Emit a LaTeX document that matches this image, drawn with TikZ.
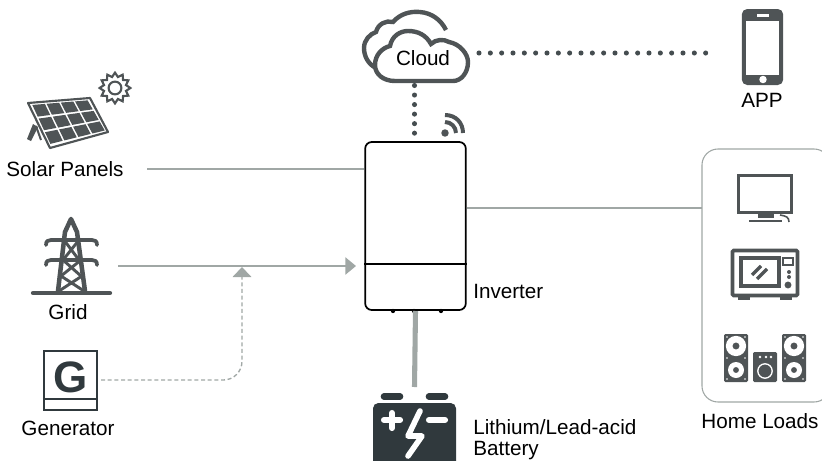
\documentclass[tikz,border=0pt]{standalone}
\usepackage{fontspec}
\usepackage{tikz}
\usetikzlibrary{arrows.meta,calc,shapes.geometric}
\setmainfont{Liberation Sans}
\definecolor{icong}{HTML}{4F5456}
\definecolor{inkdk}{HTML}{30393D}
\definecolor{lineg}{HTML}{A0A7A5}
\tikzset{
  lbl/.style={font=\fontsize{15.5}{18}\selectfont,text=black,inner sep=0pt},
  lblw/.style={lbl,anchor=west},
  thin line/.style={draw=lineg,line width=1pt},
  dotline/.style={draw=inkdk!90,line width=3.8pt,line cap=round,dash pattern=on 0pt off 8.5pt},
  iconline/.style={draw=icong,line width=2.4pt},
}
\newcommand{\panelpt}[2]{($($(pa)!#1!(pb)$)!#2!($(pd)!#1!(pc)$)$)}
\begin{document}
\begin{tikzpicture}[x=0.75pt,y=-0.75pt]
  \useasboundingbox (0,0) rectangle (822,461);
  % labels
  \node[lbl] (solarlabel) at (65,169) {Solar Panels};
  \node[lbl] (gridlabel) at (68,312) {Grid};
  \node[lbl] (genlabel) at (68,428) {Generator};
  \node[lbl] (applabel) at (762,100) {APP};
  \node[lbl] (homelabel) at (760,421) {Home Loads};
  \node[lblw] (invlabel) at (473,291) {Inverter};
  \node[lblw] (batlabel) at (473,427) {Lithium/Lead-acid};
  \node[lblw] (batlabelb) at (473,451) {Battery};
  % inverter
  \node[draw=black,line width=1.3pt,fill=white,rounded corners=5pt,minimum width=75.5pt,minimum height=126pt,inner sep=0pt] (inverter) at (415.5,226) {};
  \draw[black,line width=1.3pt] (inverter.west |- 0,264) -- (inverter.east |- 0,264);
  \foreach \bx in {393,414,441}
    \fill[black] (\bx,311) circle (1.6pt);
  % cloud
  \draw[icong,line width=3.3pt] (376,68) .. controls (368,64) and (364,56) .. (364,48)
    .. controls (364,40) and (370,34) .. (376,32) .. controls (378,24) and (386,20) .. (393,22)
    .. controls (400,14) and (410,11) .. (420,12) .. controls (432,13) and (441,20) .. (446,30);
  \draw[icong,line width=3.3pt,fill=white] (395,81) .. controls (383,81) and (375,74) .. (375,65)
    .. controls (375,55) and (382,48) .. (390,46) .. controls (392,36) and (400,31) .. (408,31)
    .. controls (418,31) and (426,35) .. (431,44) .. controls (436,39) and (444,39) .. (449,42)
    .. controls (460,44) and (468,54) .. (468,62) .. controls (468,73) and (461,81) .. (453,81) -- cycle;
  \node[lbl] (cloud) at (423,58) {Cloud};
  % app
  \node[fill=icong,rounded corners=4pt,minimum width=31pt,minimum height=57pt,inner sep=0pt] (phone) at (762.5,47) {};
  \fill[white] (746,21) rectangle (779,75);
  \fill[white] (757,14) rectangle (769,16.5);
  \fill[white] (763,79.5) circle (2.8pt);
  % dots
  \coordinate (cloudout) at (479,53);
  \coordinate (phonein) at (706,53);
  \coordinate (cloudbot) at (414.5,85.5);
  \coordinate (cloudlow) at (414.5,134);
  \draw[dotline] (cloudout) -- (phonein);
  \draw[dotline,dash pattern=on 0pt off 7.15pt] (cloudbot) -- (cloudlow);
  % wifi
  \fill[icong] (445,133) circle (2.8pt);
  \draw[icong,line width=3pt] (445,122) .. controls (451,122) and (456,127) .. (456,133);
  \draw[icong,line width=3pt] (445,115) .. controls (456,115) and (463,123) .. (463,133);
  % solar panel
  \coordinate (pa) at (31,104);
  \coordinate (pb) at (88,99.5);
  \coordinate (pc) at (106,131);
  \coordinate (pd) at (50,145);
  \fill[icong] (33,124) -- (38,127) -- (31,141) -- (27,139) -- cycle;
  \draw[icong,line width=1.5pt] (36,126) -- (41,140);
  \draw[icong,line width=1.6pt,fill=white,line join=round] (28,103) -- (90,98) -- (108,132) -- (50,148) -- cycle;
  \foreach \i in {0,1,2,3} \foreach \j in {0,1,2}
    \fill[icong] \panelpt{0.25*\i+0.015}{\j/3+0.025} -- \panelpt{0.25*\i+0.235}{\j/3+0.025}
      -- \panelpt{0.25*\i+0.235}{\j/3+0.31} -- \panelpt{0.25*\i+0.015}{\j/3+0.31} -- cycle;
  \node[star,star points=12,star point ratio=1.35,draw=icong,line width=1.6pt,minimum size=23pt,inner sep=0pt] (sun) at (115,88) {};
  \draw[icong,line width=1.6pt] (sun.center) circle (4.8pt);
  % grid
  \begin{scope}[iconline,line cap=round,line join=round]
    \draw[line width=3.2pt] (33,293) -- (110,293);
    \draw[line width=2.8pt] (46,245) .. controls (46,241) and (48,240) .. (51,240) -- (92,240) .. controls (95,240) and (97,241) .. (97,245);
    \draw[line width=2.8pt] (46,265) .. controls (46,261) and (48,260) .. (51,260) -- (92,260) .. controls (95,260) and (97,261) .. (97,265);
    \draw[line width=3.4pt] (58,291) -- (65,232) -- (71,219) -- (77,232) -- (85,291);
    \draw[line width=2.2pt] (64,240) -- (79,260) (79,240) -- (63,260) (63,260) -- (81,276) (81,260) -- (61,276) (61,276) -- (84,291) (82,276) -- (59,291);
  \end{scope}
  % generator
  \node[draw=inkdk,line width=1.5pt,minimum width=40pt,minimum height=44pt,inner sep=0pt] (genbox) at (70.5,380.5) {};
  \draw[inkdk,line width=1.5pt] (genbox.west |- 0,399) -- (genbox.east |- 0,399);
  \node[font=\bfseries\fontsize{33}{33}\selectfont,text=inkdk,inner sep=0pt] (gletter) at (71,377) {G};
  % connectors on the left
  \coordinate (solarend) at (147,169);
  \coordinate (gridstart) at (118,266);
  \coordinate (gridend) at (356,266);
  \coordinate (gentip) at (242,267);
  \coordinate (genstart) at (101,380);
  \draw[thin line] (solarend) -- (inverter.west |- solarend);
  \draw[thin line,-{Triangle[width=13pt,length=8pt,fill=lineg]}] (gridstart) -- (gridend);
  \draw[draw=lineg,line width=1pt,dash pattern=on 3pt off 2pt,rounded corners=14pt,-{Triangle[width=14pt,length=7.5pt,fill=lineg,sep=0pt]}] (genstart) -| (gentip);
  % battery
  \coordinate (battop) at (414.5,387);
  \draw[draw=lineg,line width=3.8pt] (inverter.south |- 0,311) -- (battop);
  \draw[inkdk,line width=5pt,line cap=round] (384,396.5) -- (400,396.5) (429,396.5) -- (445,396.5);
  \fill[inkdk,rounded corners=4pt] (373,403) rectangle (456,470);
  \draw[white,line width=4.6pt,line cap=round] (384,420) -- (400,420) (392,413) -- (392,428) (429,420) -- (445,420);
  \draw[white,line width=4.2pt,line cap=round,line join=round] (420,411) -- (408,436) -- (422,436) -- (408,456);
  % home loads
  \coordinate (homeedge) at (702,208);
  \draw[thin line] (inverter.east |- homeedge) -- (homeedge);
  \draw[draw=lineg,line width=0.8pt,rounded corners=12pt] (702,149) rectangle (830,402);
  % tv
  \draw[iconline] (738.5,175.5) rectangle (791.5,212.5);
  \fill[icong] (758,214) rectangle (774,218);
  \fill[icong] (749,219.5) rectangle (782,221.5);
  \draw[icong,line width=1.2pt] (780,215) .. controls (786,216) and (789,217) .. (789,222);
  % microwave
  \draw[iconline,rounded corners=1pt,line width=2.8pt] (732.5,250.5) rectangle (797.5,295.5);
  \draw[iconline,line width=2.8pt] (741,258) rectangle (779,286);
  \draw[icong,line width=2.4pt] (752,275) -- (761,266) (757,279) -- (767,269);
  \draw[icong,line width=1.6pt] (783,258) rectangle (793,265);
  \foreach \dy in {272,277}
    \fill[icong] (789,\dy) circle (1.5pt);
  \fill[icong] (788,285) circle (2.6pt);
  \fill[icong] (738,296) rectangle (750,300);
  \fill[icong] (780,296) rectangle (792,300);
  % speakers
  \foreach \sx in {736,794}{
    \fill[icong,rounded corners=1pt] (\sx-12,334) rectangle (\sx+12,382);
    \fill[white] (\sx,346) circle (7.6pt);
    \fill[icong] (\sx,346) circle (2.6pt);
    \fill[white] (\sx,370) circle (6pt);
    \fill[icong] (\sx,370) circle (2.2pt);
    \foreach \cx/\cy in {-9/337,9/337,-9/358,9/358,-9/379,9/379}
      \fill[white] (\sx+\cx,\cy) circle (0.7pt);
  }
  \fill[icong,rounded corners=1pt] (753,352) rectangle (777,382);
  \draw[white,line width=1pt] (765,371) circle (5.4pt);
  \foreach \mx in {760,766,771}
    \fill[white] (\mx,357) circle (1.1pt);
\end{tikzpicture}
\end{document}
